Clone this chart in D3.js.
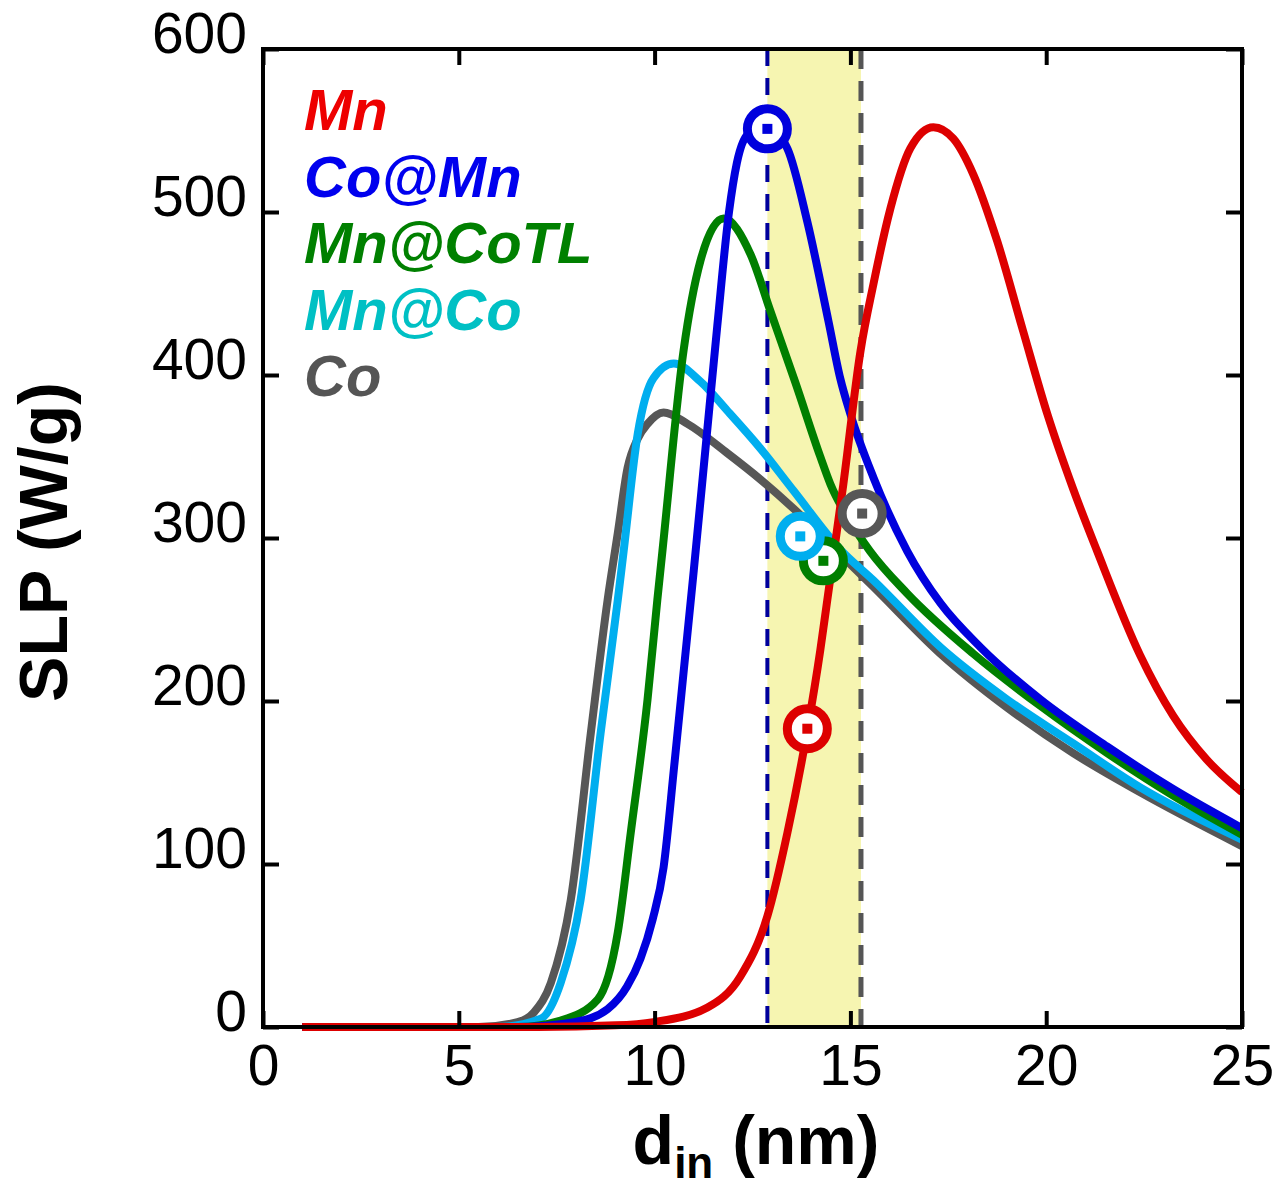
<!DOCTYPE html>
<html>
<head>
<meta charset="utf-8">
<script src="https://cdn.jsdelivr.net/npm/d3@7"></script>
<style>
  body { margin: 0; background: #fff; }
  svg text { font-family: "Liberation Sans", Arial, sans-serif; }
</style>
</head>
<body>
<div id="chart"></div>
<script>
// series names + colours
const names = ["Mn", "Co@Mn", "Mn@CoTL", "Mn@Co", "Co"];
const lineColors = ["#dd0000", "#0000dd", "#007f00", "#00aeef", "#575757"];
const textColors = ["#ee0000", "#0000ee", "#008000", "#00c0c4", "#555555"];

// values (d in nm, SLP in W/g)
const mnD = [1, 7, 9, 9.97, 11.35, 12.19, 12.88, 13.39, 13.9, 14.23, 14.41, 14.82, 15.26, 15.59, 16.02, 16.53, 17.12, 17.63, 18.14, 18.75, 19.41, 20.03, 20.69, 21.3, 22.4, 23.24, 24.1, 25];
const mnV = [0, 0, 1, 3, 12, 31, 68, 119, 182, 231, 262, 333, 415, 456, 502, 539, 552, 545, 523, 482, 427, 376, 330, 292, 228, 191, 164, 144];

const coMnD = [1, 6.5, 7.95, 8.8, 9.3, 9.64, 9.95, 10.23, 10.5, 10.75, 11.0, 11.3, 11.6, 11.9, 12.1, 12.4, 12.88, 13.39, 13.9, 14.44, 14.74, 15.0, 15.59, 16.45, 17.3, 18.32, 19.85, 21.56, 23.24, 25];
const coMnV = [0, 0, 3, 11, 25, 42, 66, 98, 160, 220, 280, 355, 430, 500, 530, 548, 552, 539, 494, 433, 398, 376, 337, 292, 260, 233, 201, 172, 146, 122];

const mnCoTLD = [1, 6.5, 7.6, 8.55, 9.06, 9.39, 9.82, 10.07, 10.2, 10.74, 11.17, 11.76, 12.45, 12.96, 13.6, 14.23, 14.49, 15.0, 15.5, 16.45, 18.14, 19.85, 21.56, 23.24, 25];
const mnCoTLV = [0, 0, 4, 17, 58, 119, 201, 262, 292, 415, 470, 496, 474, 439, 395, 350, 333, 310, 292, 266, 229, 197, 168, 142, 118];

const mnCoD = [1, 6, 7.09, 7.6, 8.11, 8.62, 9.06, 9.21, 9.57, 9.97, 10.49, 11.17, 11.86, 12.7, 13.55, 14.74, 15.59, 17.3, 19.0, 20.69, 22.4, 25];
const mnCoV = [0, 0, 5, 27, 78, 180, 262, 292, 364, 398, 407, 396, 378, 355, 329, 293, 274, 233, 201, 174, 147, 115];

const coD = [1, 5.5, 6.5, 6.92, 7.35, 7.86, 8.37, 8.8, 9.06, 9.31, 9.57, 9.82, 10.23, 10.84, 11.86, 12.7, 13.55, 14.74, 15.59, 17.3, 19.0, 20.69, 22.4, 25];
const coV = [0, 0, 3, 9, 27, 78, 180, 262, 303, 343, 361, 370, 377, 370, 352, 336, 318, 290, 270, 229, 196, 168, 144, 111];

// open circle markers (same order as names)
const markD = [13.9, 12.88, 14.31, 13.72, 15.3];
const markV = [183, 551, 286, 301, 315];

// shaded band + dashed lines
const bandFrom = 12.88;
const bandTo = 15.27;

const xTicks = [0, 5, 10, 15, 20, 25];
const yTicks = [0, 100, 200, 300, 400, 500, 600];

const series = [
  { d: mnD, v: mnV },
  { d: coMnD, v: coMnV },
  { d: mnCoTLD, v: mnCoTLV },
  { d: mnCoD, v: mnCoV },
  { d: coD, v: coV }
];

const W = 1277, H = 1194;
const svg = d3.select("#chart").append("svg")
  .attr("width", W)
  .attr("height", H);

const x = d3.scaleLinear().domain([0, 25]).range([263, 1242]);
const y = d3.scaleLinear().domain([0, 600]).range([1027, 49]);

// yellow band
svg.append("rect")
  .attr("x", x(bandFrom))
  .attr("y", y(600))
  .attr("width", x(bandTo) - x(bandFrom))
  .attr("height", y(0) - y(600))
  .attr("fill", "#f6f5b1");

// dashed verticals
svg.append("line")
  .attr("x1", x(bandFrom)).attr("x2", x(bandFrom))
  .attr("y1", y(600)).attr("y2", y(0))
  .attr("stroke", "#00009c").attr("stroke-width", 4)
  .attr("stroke-dasharray", "17,12");
svg.append("line")
  .attr("x1", x(bandTo)).attr("x2", x(bandTo))
  .attr("y1", y(600)).attr("y2", y(0))
  .attr("stroke", "#555").attr("stroke-width", 5)
  .attr("stroke-dasharray", "20,12");

// curves (grey first, red last)
const line = d3.line()
  .x(p => x(p[0]))
  .y(p => y(p[1]))
  .curve(d3.curveMonotoneX);

[4, 3, 2, 1, 0].forEach(i => {
  const pts = series[i].d.map((d, k) => [d, series[i].v[k]]);
  svg.append("path")
    .datum(pts)
    .attr("fill", "none")
    .attr("stroke", lineColors[i])
    .attr("stroke-width", 8)
    .attr("stroke-linejoin", "round")
    .attr("d", line);
});

// markers
[1, 0, 2, 3, 4].forEach(i => {
  const g = svg.append("g");
  g.append("circle")
    .attr("cx", x(markD[i]))
    .attr("cy", y(markV[i]))
    .attr("r", 20)
    .attr("fill", "#fff")
    .attr("stroke", lineColors[i])
    .attr("stroke-width", 9);
  g.append("rect")
    .attr("x", x(markD[i]) - 5)
    .attr("y", y(markV[i]) - 5)
    .attr("width", 10)
    .attr("height", 10)
    .attr("fill", lineColors[i]);
});

// frame
svg.append("rect")
  .attr("x", x(0)).attr("y", y(600))
  .attr("width", x(25) - x(0))
  .attr("height", y(0) - y(600))
  .attr("fill", "none")
  .attr("stroke", "#000")
  .attr("stroke-width", 4);

// axes, ticks pointing inside
const xAxis = svg.append("g")
  .attr("transform", "translate(0," + y(0) + ")")
  .call(d3.axisBottom(x).tickValues(xTicks).tickSize(-16).tickPadding(18));
const yAxis = svg.append("g")
  .attr("transform", "translate(" + x(0) + ",0)")
  .call(d3.axisLeft(y).tickValues(yTicks).tickSize(-16).tickPadding(16));
svg.append("g")
  .attr("transform", "translate(0," + y(600) + ")")
  .call(d3.axisTop(x).tickValues(xTicks).tickSize(-16).tickFormat(""));
svg.append("g")
  .attr("transform", "translate(" + x(25) + ",0)")
  .call(d3.axisRight(y).tickValues(yTicks).tickSize(-16).tickFormat(""));

svg.selectAll(".domain").remove();
svg.selectAll(".tick line").attr("stroke", "#000").attr("stroke-width", 4);
svg.selectAll(".tick text")
  .attr("fill", "#000")
  .style("font-size", "57px")
  .style("font-family", "'Liberation Sans', Arial, sans-serif");
yAxis.selectAll(".tick text").attr("y", -15);

// legend
names.forEach((n, i) => {
  svg.append("text")
    .attr("x", 304)
    .attr("y", 130 + i * 66.6)
    .attr("fill", textColors[i])
    .style("font-size", "58px")
    .style("font-weight", "bold")
    .style("font-style", "italic")
    .text(n);
});

// axis titles
svg.append("text")
  .attr("transform", "translate(67," + ((y(0) + y(600)) / 2 + 4) + ") rotate(-90)")
  .attr("text-anchor", "middle")
  .style("font-size", "68px")
  .style("font-weight", "bold")
  .text("SLP (W/g)");

const xt = svg.append("text")
  .attr("x", 756)
  .attr("y", 1164)
  .attr("text-anchor", "middle")
  .style("font-size", "68px")
  .style("font-weight", "bold");
xt.append("tspan").text("d");
xt.append("tspan").attr("dy", 14).style("font-size", "44px").text("in");
xt.append("tspan").attr("dy", -14).text(" (nm)");
</script>
</body>
</html>
